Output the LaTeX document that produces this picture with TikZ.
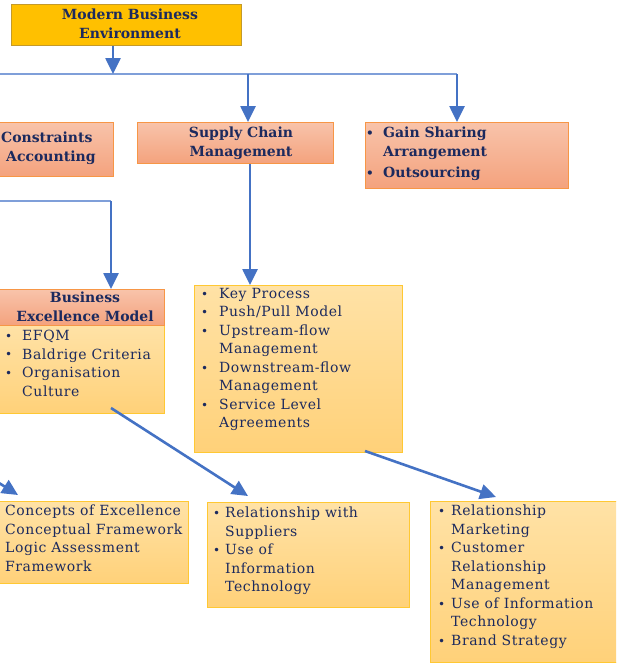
\documentclass[tikz,border=0pt]{standalone}
\usepackage{fontspec}
\setmainfont{DejaVu Serif}
\newfontfamily\listfont{DejaVu Serif}[LetterSpace=4]
\usetikzlibrary{arrows.meta}

\definecolor{ink}{HTML}{1C2A5E}
\definecolor{gold}{HTML}{FFC000}
\definecolor{goldedge}{HTML}{C49A2A}
\definecolor{salmonTop}{HTML}{F8C3AA}
\definecolor{salmonBot}{HTML}{F4A27D}
\definecolor{salmonEdge}{HTML}{F79646}
\definecolor{creamTop}{HTML}{FFE2A6}
\definecolor{creamBot}{HTML}{FFD179}
\definecolor{creamEdge}{HTML}{FFC833}
\definecolor{linkblue}{HTML}{4472C4}
\definecolor{barblue}{HTML}{7F9FD9}

% bullet with a hanging indent of the given width
\newcommand{\bl}[1][17pt]{\makebox[#1][l]{\fontsize{12}{12}\selectfont\raisebox{0.2pt}{•}}}
\newcommand{\ind}[1][17pt]{\hspace*{#1}}

\tikzset{
  box/.style={draw, line width=1.2pt, inner sep=0pt, anchor=north west},
  topbox/.style={box, fill=gold, draw=goldedge, line width=0.8pt},
  salmonbox/.style={box, draw=salmonEdge, top color=salmonTop, bottom color=salmonBot},
  creambox/.style={box, draw=creamEdge, top color=creamTop, bottom color=creamBot},
  heading/.style={text=ink, font=\bfseries\fontsize{14}{19}\selectfont, align=center, inner sep=0pt},
  body/.style={text=ink, font=\listfont\fontsize{14}{18.5}\selectfont, align=left, inner sep=0pt, anchor=north west},
  link/.style={draw=linkblue, line width=2.6pt, -{Triangle[width=15pt,length=16pt]}},
  bar/.style={draw=barblue, line width=2pt},
}

\begin{document}
\begin{tikzpicture}[x=1pt,y=-1pt]
\useasboundingbox (0,0) rectangle (616,664);
\clip (0,0) rectangle (616,664);

% ---- boxes ----
\node[topbox, minimum width=230pt, minimum height=41pt] (mbe) at (11,4) {};
\node[salmonbox, minimum width=118pt, minimum height=54pt] (toc) at (-5,122) {};
\node[salmonbox, minimum width=196pt, minimum height=41pt] (scm) at (137,122) {};
\node[salmonbox, minimum width=203pt, minimum height=66pt] (gs) at (365,122) {};
\node[creambox, minimum width=169pt, minimum height=88pt] (bemb) at (-5,325) {};
\node[salmonbox, minimum width=169pt, minimum height=36pt] (bemh) at (-5,289) {};
\node[creambox, minimum width=208pt, minimum height=167pt] (scmd) at (194,285) {};
\node[creambox, minimum width=193pt, minimum height=82pt] (cx) at (-5,501) {};
\node[creambox, minimum width=202pt, minimum height=105pt] (sup) at (207,502) {};
\node[creambox, minimum width=192pt, minimum height=161pt] (crm) at (430,501) {};

% ---- headings ----
\node[heading] (mbeT) at (130,24) {Modern Business\\Environment};
\node[heading, anchor=north west, align=left] (tocT) at (1,132) {Constraints\\\hspace*{5pt}Accounting};
\node[heading] (scmT) at (241,143) {Supply Chain\\Management};
\node[heading, anchor=north west, align=left] (gsT) at (366,127)
  {\bl Gain Sharing\\\ind Arrangement\\[2pt]\bl Outsourcing};
\node[heading] (bemT) at (85,307) {Business\\Excellence Model};

% ---- lists ----
\node[body] (bemL) at (5,330)
  {\bl EFQM\\\bl Baldrige Criteria\\\bl Organisation\\\ind Culture};
\node[body] (scmL) at (201,288)
  {\bl[18pt]Key Process\\\bl[18pt]Push/Pull Model\\\bl[18pt]Upstream-flow\\\ind[18pt]Management\\
   \bl[18pt]Downstream-flow\\\ind[18pt]Management\\\bl[18pt]Service Level\\\ind[18pt]Agreements};
\node[body] (cxL) at (5,505)
  {Concepts of Excellence\\Conceptual Framework\\Logic Assessment\\Framework};
\node[body] (supL) at (213,507)
  {\bl[12pt]Relationship with\\\ind[12pt]Suppliers\\\bl[12pt]Use of\\\ind[12pt]Information\\\ind[12pt]Technology};
\node[body] (crmL) at (438,505)
  {\bl[13pt]Relationship\\\ind[13pt]Marketing\\\bl[13pt]Customer\\\ind[13pt]Relationship\\\ind[13pt]Management\\
   \bl[13pt]Use of Information\\\ind[13pt]Technology\\\bl[13pt]Brand Strategy};

% ---- connectors ----
\coordinate (j0) at (113,74);
\coordinate (barL) at (-5,74);
\coordinate (barR) at (457,74);
\coordinate (j1) at (248,74);
\draw[bar] (barL) -- (barR);
\draw[link] (mbe.south -| j0) -- (j0);
\draw[link] (j1) -- (scm.north -| j1);
\draw[link] (barR) -- (gs.north -| barR);

\coordinate (bar2L) at (-5,201);
\coordinate (bar2R) at (111,201);
\draw[bar] (bar2L) -- (bar2R);
\draw[link] (bar2R) -- (bemh.north -| bar2R);

\coordinate (x2) at (250,0);
\draw[link] (scm.south -| x2) -- (scmd.north -| x2);

\coordinate (d0s) at (-12,476);
\coordinate (d0e) at (18,495);
\coordinate (d1s) at (111,408);
\coordinate (d1e) at (248,496);
\coordinate (d2s) at (365,451);
\coordinate (d2e) at (496,497);
\draw[link] (d0s) -- (d0e);
\draw[link] (d1s) -- (d1e);
\draw[link] (d2s) -- (d2e);
\end{tikzpicture}
\end{document}
